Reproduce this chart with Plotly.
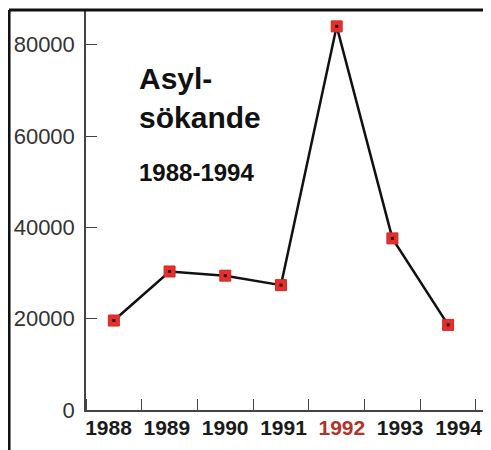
import plotly.graph_objects as go

years = [1988, 1989, 1990, 1991, 1992, 1993, 1994]
asylum_seekers = [19595, 30335, 29420, 27351, 84018, 37581, 18640]
year_labels = ["1988", "1989", "1990", "1991", "1992", "1993", "1994"]
y_ticks = [0, 20000, 40000, 60000, 80000]
y_tick_labels = ["0", "20000", "40000", "60000", "80000"]
highlight_year = "1992"

tick_text = [
    f"<span style='color:#b5302a'>{t}</span>" if t == highlight_year else t
    for t in year_labels
]

FONT = "Liberation Sans, Arial, sans-serif"

fig = go.Figure()
fig.add_trace(go.Scatter(
    x=years, y=asylum_seekers, mode="lines+markers",
    line=dict(color="#111111", width=2.5),
    marker=dict(symbol="square", size=11, color="#e3302a",
                line=dict(color="#d02a25", width=1)),
    hoverinfo="skip", showlegend=False,
))
fig.add_trace(go.Scatter(
    x=years, y=asylum_seekers, mode="markers",
    marker=dict(symbol="square", size=3, color="#400000"),
    hoverinfo="skip", showlegend=False,
))
# invisible trace carrying the label axis
fig.add_trace(go.Scatter(
    x=years, y=asylum_seekers, xaxis="x2", mode="markers",
    marker=dict(size=1, opacity=0), hoverinfo="skip", showlegend=False,
))

fig.update_layout(
    width=483, height=442,
    margin=dict(l=78, r=0, t=2, b=40, autoexpand=False),
    paper_bgcolor="white", plot_bgcolor="white",
    font=dict(family=FONT, color="#222"),
    xaxis=dict(
        range=[1987.5, 1994.77], tickmode="array", tickvals=years,
        showticklabels=False, ticks="", showgrid=False, zeroline=False,
        showline=True, linecolor="#444", linewidth=1.5, automargin=False,
        minor=dict(tick0=1988.5, dtick=1, ticks="inside", ticklen=11,
                   tickcolor="#444", tickwidth=1.2, showgrid=False),
    ),
    xaxis2=dict(
        overlaying="x", anchor="y", side="bottom",
        range=[1987.614, 1994.557], tickmode="array", tickvals=years,
        ticktext=tick_text, ticks="", showgrid=False, zeroline=False,
        showline=False, automargin=False, ticklabelstandoff=3,
        tickfont=dict(size=21, color="#1a1a1a", family=FONT, weight="bold"),
    ),
    yaxis=dict(
        range=[0, 87600], tickmode="array", tickvals=y_ticks,
        ticktext=y_tick_labels,
        ticks="inside", ticklen=11, tickcolor="#444", tickwidth=1.2,
        showgrid=False, zeroline=False, showline=True, automargin=False,
        linecolor="#444", linewidth=1.5, ticklabelstandoff=5,
        tickfont=dict(size=22, color="#333"),
    ),
    shapes=[
        dict(type="line", xref="paper", yref="paper", x0=-0.19, x1=1.0,
             y0=1.0, y1=1.0, line=dict(color="#111", width=3)),
        dict(type="line", xref="paper", yref="paper", x0=-0.19, x1=-0.19,
             y0=1.0, y1=-0.11, line=dict(color="#111", width=3)),
    ],
    annotations=[
        dict(text="<b>Asyl-<br>sökande</b>", xref="paper", yref="paper",
             x=0.126, y=0.78, xanchor="left", yanchor="middle", align="left",
             showarrow=False, font=dict(size=30, color="#111")),
        dict(text="<b>1988-1994</b>", xref="paper", yref="paper",
             x=0.126, y=0.595, xanchor="left", yanchor="middle", align="left",
             showarrow=False, font=dict(size=24, color="#111")),
    ],
)

fig.write_html("out.html")
